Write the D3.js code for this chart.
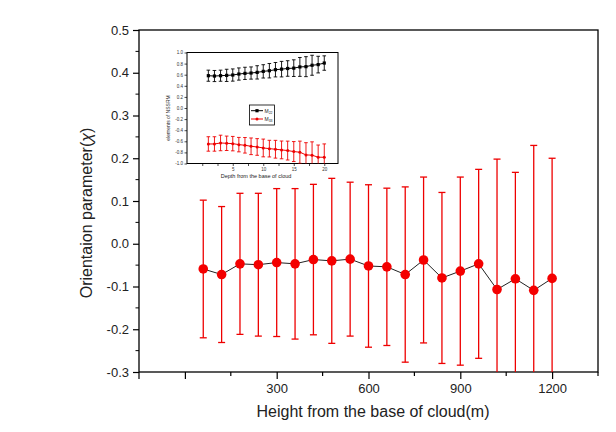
<!DOCTYPE html>
<html>
<head>
<meta charset="utf-8">
<script src="https://cdn.jsdelivr.net/npm/d3@7"></script>
<style>
  html, body { margin: 0; padding: 0; background: #fff; }
  svg { display: block; font-family: "Liberation Sans", Arial, sans-serif; }
</style>
</head>
<body>
<svg id="chart" width="616" height="432"></svg>
<script>
// ---- Main chart data ----
const heights = [60,120,180,240,300,360,420,480,540,600,660,720,780,840,900,960,1020,1080,1140,1200];
const chiMean = [-0.059,-0.072,-0.047,-0.049,-0.044,-0.047,-0.037,-0.040,-0.036,-0.052,-0.054,-0.072,-0.038,-0.080,-0.064,-0.047,-0.107,-0.082,-0.109,-0.081];
const chiErr  = [0.161,0.159,0.165,0.167,0.173,0.176,0.176,0.193,0.180,0.190,0.184,0.205,0.194,0.200,0.220,0.221,0.305,0.249,0.339,0.281];
const xTickLabels = [300, 600, 900, 1200];
const yTickLabels = [-0.3,-0.2,-0.1,0.0,0.1,0.2,0.3,0.4,0.5];

// ---- Inset data ----
const depthIdx = [1,2,3,4,5,6,7,8,9,10,11,12,13,14,15,16,17,18,19,20];
const m22Mean = [0.582,0.576,0.582,0.588,0.594,0.612,0.624,0.630,0.642,0.660,0.672,0.690,0.700,0.712,0.718,0.740,0.745,0.770,0.782,0.810];
const m22Err  = [0.10,0.10,0.10,0.11,0.11,0.11,0.11,0.11,0.12,0.12,0.13,0.13,0.14,0.14,0.15,0.17,0.18,0.18,0.15,0.13];
const m33Mean = [-0.648,-0.648,-0.630,-0.636,-0.642,-0.660,-0.672,-0.690,-0.702,-0.720,-0.732,-0.743,-0.755,-0.767,-0.785,-0.797,-0.845,-0.850,-0.887,-0.887];
const m33Err  = [0.13,0.13,0.14,0.13,0.13,0.13,0.14,0.15,0.15,0.16,0.15,0.16,0.16,0.17,0.18,0.20,0.22,0.24,0.22,0.24];
const insetXLabels = [5,10,15,20];
const insetYLabels = [-1.0,-0.8,-0.6,-0.4,-0.2,0.0,0.2,0.4,0.6,0.8,1.0];

const svg = d3.select("#chart");
const red = "#ee0000";
const fmt1 = d => d.toFixed(1);   // keeps ASCII hyphen-minus like the reference

// ---- Main scales ----
const x = d3.scaleLinear().domain([-150, 1350]).range([139, 598]);
const y = d3.scaleLinear().domain([-0.3, 0.5]).range([372, 30]);

svg.append("defs").append("clipPath").attr("id","mainclip")
  .append("rect").attr("x",139).attr("y",30).attr("width",459).attr("height",342);

// frame
svg.append("rect").attr("x",139).attr("y",30).attr("width",459).attr("height",342)
  .attr("fill","none").attr("stroke","#000").attr("stroke-width",1.3);

// Y axis
const yAxis = d3.axisLeft(y).tickValues(yTickLabels).tickFormat(fmt1).tickSize(6).tickPadding(4);
const gy = svg.append("g").attr("transform","translate(139,0)").call(yAxis);
gy.select(".domain").remove();
gy.selectAll("text").attr("font-size",13).attr("fill","#222");
gy.selectAll("line").attr("stroke-width",1.2);
const yMinor = d3.range(-0.25, 0.5, 0.1);
svg.append("g").selectAll("line").data(yMinor).join("line")
  .attr("x1",135.5).attr("x2",139).attr("y1",d=>y(d)).attr("y2",d=>y(d)).attr("stroke","#000").attr("stroke-width",1);

// X axis
const xAxis = d3.axisBottom(x).tickValues([0,300,600,900,1200])
  .tickFormat(d => xTickLabels.includes(d) ? d : "").tickSize(7).tickPadding(5);
const gx = svg.append("g").attr("transform","translate(0,372)").call(xAxis);
gx.select(".domain").remove();
gx.selectAll("text").attr("font-size",13).attr("fill","#222");
gx.selectAll("line").attr("stroke-width",1.2);
const xMinor = [-150,150,450,750,1050,1350];
svg.append("g").selectAll("line").data(xMinor).join("line")
  .attr("x1",d=>x(d)).attr("x2",d=>x(d)).attr("y1",372).attr("y2",d => d===-150 ? 379 : 376).attr("stroke","#000").attr("stroke-width",1.2);

// axis titles
svg.append("text").attr("x",373).attr("y",417).attr("text-anchor","middle")
  .attr("font-size",16).attr("fill","#222").text("Height from the base of cloud(m)");
const yt = svg.append("text").attr("transform","translate(92,213) rotate(-90)").attr("text-anchor","middle")
  .attr("font-size",16).attr("fill","#222");
yt.append("tspan").text("Orientaion parameter(");
yt.append("tspan").attr("font-style","italic").text("χ");
yt.append("tspan").text(")");

// main data
const mainData = heights.map((h,i)=>({h, m: chiMean[i], e: chiErr[i]}));
const gMain = svg.append("g").attr("clip-path","url(#mainclip)");
gMain.selectAll("line.eb").data(mainData).join("line").attr("class","eb")
  .attr("x1",d=>x(d.h)).attr("x2",d=>x(d.h)).attr("y1",d=>y(d.m+d.e)).attr("y2",d=>y(d.m-d.e))
  .attr("stroke",red).attr("stroke-width",1.3);
["top","bot"].forEach(k=>{
  gMain.selectAll("line.cap"+k).data(mainData).join("line").attr("class","cap"+k)
    .attr("x1",d=>x(d.h)-3.5).attr("x2",d=>x(d.h)+3.5)
    .attr("y1",d=>y(k==="top"?d.m+d.e:d.m-d.e)).attr("y2",d=>y(k==="top"?d.m+d.e:d.m-d.e))
    .attr("stroke",red).attr("stroke-width",1.3);
});
gMain.append("path").datum(mainData)
  .attr("d", d3.line().x(d=>x(d.h)).y(d=>y(d.m)))
  .attr("fill","none").attr("stroke","#222").attr("stroke-width",1);
gMain.selectAll("circle").data(mainData).join("circle")
  .attr("cx",d=>x(d.h)).attr("cy",d=>y(d.m)).attr("r",4.8).attr("fill","#f40000");

// ---- Inset ----
const xi = d3.scaleLinear().domain([-2.5, 22.25]).range([187, 338]);
const yi = d3.scaleLinear().domain([-1, 1]).range([163.5, 52.5]);
svg.select("defs").append("clipPath").attr("id","insetclip")
  .append("rect").attr("x",187).attr("y",52.5).attr("width",151).attr("height",111);
svg.append("rect").attr("x",187).attr("y",52.5).attr("width",151).attr("height",111)
  .attr("fill","#fff").attr("stroke","#000").attr("stroke-width",1);

const giy = svg.append("g").attr("transform","translate(187,0)")
  .call(d3.axisLeft(yi).tickValues(insetYLabels).tickFormat(fmt1).tickSize(2.5).tickPadding(1.5));
giy.select(".domain").remove();
giy.selectAll("text").attr("font-size",4.5).attr("fill","#333");
giy.selectAll("line").attr("stroke-width",0.7);

const gix = svg.append("g").attr("transform","translate(0,163.5)")
  .call(d3.axisBottom(xi).tickValues([0,2.5,5,7.5,10,12.5,15,17.5,20])
    .tickFormat(d => insetXLabels.includes(d) ? d : "").tickSize(2.5).tickPadding(2));
gix.select(".domain").remove();
gix.selectAll("text").attr("font-size",4.5).attr("fill","#333");
gix.selectAll("line").attr("stroke-width",0.7);

svg.append("text").attr("x",256).attr("y",178).attr("text-anchor","middle")
  .attr("font-size",5.5).attr("fill","#222").text("Depth from the base of cloud");
svg.append("text").attr("transform","translate(170,118) rotate(-90)").attr("text-anchor","middle")
  .attr("font-size",5).attr("fill","#222").text("elements of NSSRM");

function drawInsetSeries(means, errs, color, shape) {
  const data = depthIdx.map((d,i)=>({d, m: means[i], e: errs[i]}));
  const g = svg.append("g").attr("clip-path","url(#insetclip)");
  g.selectAll("line.eb").data(data).join("line").attr("class","eb")
    .attr("x1",d=>xi(d.d)).attr("x2",d=>xi(d.d)).attr("y1",d=>yi(d.m+d.e)).attr("y2",d=>yi(d.m-d.e))
    .attr("stroke",color).attr("stroke-width",0.9);
  ["t","b"].forEach(k=>{
    g.selectAll("line.c"+k).data(data).join("line").attr("class","c"+k)
      .attr("x1",d=>xi(d.d)-1.8).attr("x2",d=>xi(d.d)+1.8)
      .attr("y1",d=>yi(k==="t"?d.m+d.e:d.m-d.e)).attr("y2",d=>yi(k==="t"?d.m+d.e:d.m-d.e))
      .attr("stroke",color).attr("stroke-width",0.9);
  });
  g.append("path").datum(data).attr("d", d3.line().x(d=>xi(d.d)).y(d=>yi(d.m)))
    .attr("fill","none").attr("stroke",color).attr("stroke-width",1);
  if (shape === "square") {
    g.selectAll("rect").data(data).join("rect")
      .attr("x",d=>xi(d.d)-1.6).attr("y",d=>yi(d.m)-1.6).attr("width",3.2).attr("height",3.2).attr("fill",color);
  } else {
    g.selectAll("circle").data(data).join("circle")
      .attr("cx",d=>xi(d.d)).attr("cy",d=>yi(d.m)).attr("r",1.5).attr("fill",color);
  }
}
drawInsetSeries(m22Mean, m22Err, "#000", "square");
drawInsetSeries(m33Mean, m33Err, red, "circle");

// inset legend
const lg = svg.append("g");
lg.append("rect").attr("x",249.5).attr("y",105).attr("width",25).attr("height",20)
  .attr("fill","#fff").attr("stroke","#000").attr("stroke-width",0.8);
const legItems = [{name:"22", color:"#000", shape:"square", yy:110.7},{name:"33", color:red, shape:"circle", yy:119}];
legItems.forEach(it=>{
  lg.append("line").attr("x1",251).attr("x2",263).attr("y1",it.yy).attr("y2",it.yy).attr("stroke",it.color).attr("stroke-width",1);
  if (it.shape==="square") lg.append("rect").attr("x",255.4).attr("y",it.yy-1.6).attr("width",3.2).attr("height",3.2).attr("fill",it.color);
  else lg.append("circle").attr("cx",257).attr("cy",it.yy).attr("r",1.5).attr("fill",it.color);
  const t = lg.append("text").attr("x",264.5).attr("y",it.yy+1.8).attr("font-size",5).attr("fill","#222");
  t.append("tspan").text("M");
  t.append("tspan").attr("font-size",3.5).attr("dy",1).text(it.name);
});
</script>
</body>
</html>
